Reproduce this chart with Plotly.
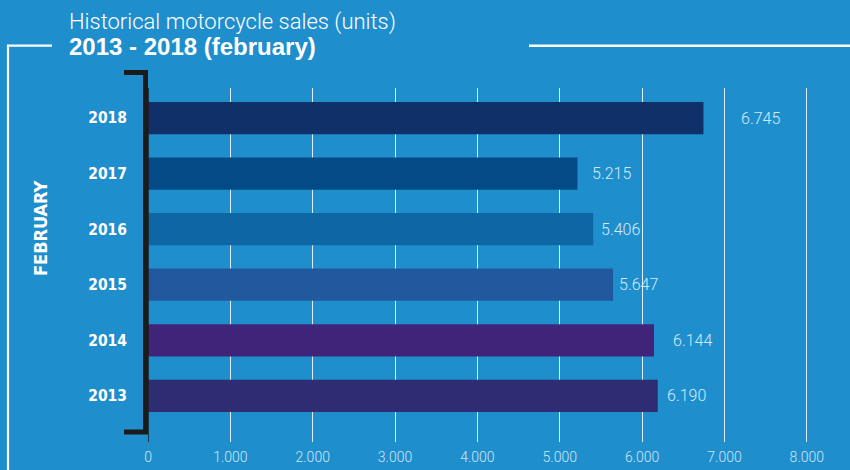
import plotly.graph_objects as go

years = ["2013", "2014", "2015", "2016", "2017", "2018"]
sales = [6190, 6144, 5647, 5406, 5215, 6745]
bar_colors = ["#2e2c72", "#402479", "#22589e", "#0e67a4", "#044a86", "#0f3068"]
label_texts = ["6.190", "6.144", "5.647", "5.406", "5.215", "6.745"]
label_shift = [7, 17, 4, 6, 13, 36]
x_ticks = [0, 1000, 2000, 3000, 4000, 5000, 6000, 7000, 8000]
x_tick_text = ["0", "1.000", "2.000", "3.000", "4.000", "5.000", "6.000", "7.000", "8.000"]

BG = "#1f8ecd"
W, H = 850, 470
L, R, T, B = 148, 848, 88, 442


def px(x):
    return (x - L) / (R - L)


def py(y):
    return (B - y) / (B - T)


fig = go.Figure()
fig.add_trace(go.Bar(
    x=sales, y=years, orientation="h",
    marker=dict(color=bar_colors, line=dict(width=0)),
    width=0.58, hoverinfo="skip",
))

annotations = []
for i, (v, t, s) in enumerate(zip(sales, label_texts, label_shift)):
    annotations.append(dict(
        x=v, y=i, xref="x", yref="y", text=t, showarrow=False,
        xanchor="left", yanchor="middle", xshift=s,
        font=dict(family="Roboto", size=16, color="#d6ebf8", weight=300),
    ))

annotations += [
    dict(x=px(67), y=py(22), xref="paper", yref="paper", xanchor="left", yanchor="middle",
         text="Historical motorcycle sales (units)", showarrow=False,
         font=dict(family="Roboto", size=22, color="#ffffff", weight=300)),
    dict(x=px(67), y=py(46), xref="paper", yref="paper", xanchor="left", yanchor="middle",
         text="<b>2013 - 2018 (february)</b>", showarrow=False,
         font=dict(family="Liberation Sans", size=24, color="#ffffff")),
    dict(x=px(40), y=py(228), xref="paper", yref="paper", xanchor="center", yanchor="middle",
         text="<b>FEBRUARY</b>", showarrow=False, textangle=-90,
         font=dict(family="Liberation Sans Narrow, DejaVu Sans Condensed, Liberation Sans", size=18, color="#ffffff")),
]

shapes = [
    dict(type="path", xref="paper", yref="paper",
         path=f"M {px(52)},{py(45.7)} L {px(8)},{py(45.7)} L {px(8)},{py(472)}",
         line=dict(color="#ffffff", width=2.2)),
    dict(type="line", xref="paper", yref="paper", x0=px(529), x1=px(852), y0=py(45.7), y1=py(45.7),
         line=dict(color="#ffffff", width=2.5)),
    dict(type="line", xref="x", yref="paper", x0=0, x1=0, y0=0, y1=1,
         line=dict(color="#1b1b1b", width=1.5)),
    dict(type="path", xref="paper", yref="paper",
         path=f"M {px(124)},{py(72.5)} L {px(145.5)},{py(72.5)} L {px(145.5)},{py(432)} L {px(124)},{py(432)}",
         line=dict(color="#1b1b1b", width=5)),
]

fig.update_layout(
    width=W, height=H,
    margin=dict(l=L, r=W - R, t=T, b=H - B, pad=0),
    paper_bgcolor=BG, plot_bgcolor=BG,
    showlegend=False,
    separators=",.",
    annotations=annotations,
    shapes=shapes,
    xaxis=dict(
        range=[0, 8500], tickvals=x_ticks, ticktext=x_tick_text,
        showgrid=True, gridcolor="rgba(255,255,255,0.85)", gridwidth=1,
        zeroline=False, showline=False, ticks="",
        tickfont=dict(family="Roboto", size=14, color="#cfe6f5", weight=300),
        ticklabelstandoff=5, fixedrange=True,
    ),
    yaxis=dict(
        type="category", categoryorder="array", categoryarray=years,
        range=[-0.83, 5.54], showgrid=False, zeroline=False, showline=False, ticks="",
        tickfont=dict(family="Liberation Sans Narrow, DejaVu Sans Condensed, Liberation Sans", size=15.5, color="#ffffff", weight="bold"),
        ticklabelstandoff=20, fixedrange=True,
    ),
)

fig.write_html("out.html", config={"displayModeBar": False},
               post_script="document.body.style.margin='0';document.body.style.overflow='hidden';document.body.style.background='" + BG + "';")
